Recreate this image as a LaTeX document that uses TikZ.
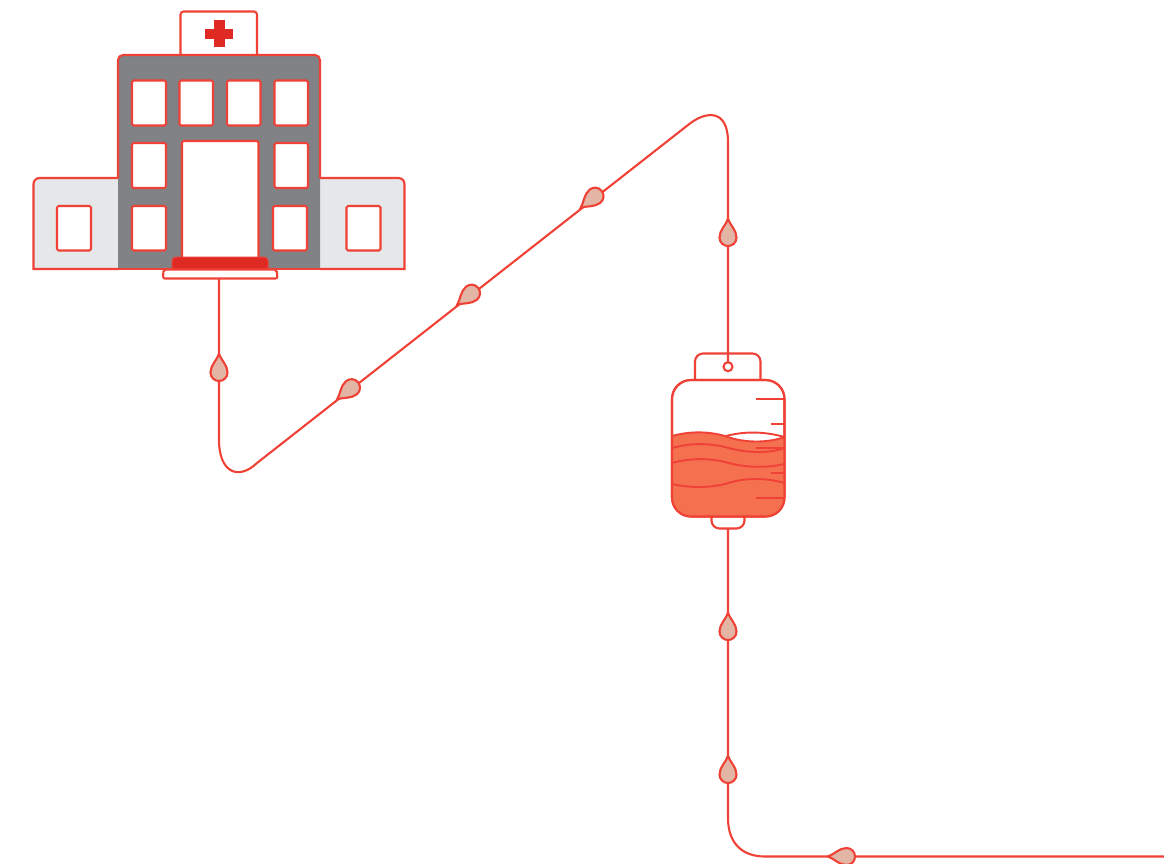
\documentclass[tikz,border=0pt]{standalone}

\definecolor{linered}{HTML}{EF4136}
\definecolor{crossred}{HTML}{DE2A22}
\definecolor{wallgray}{HTML}{808285}
\definecolor{winggray}{HTML}{E6E7E8}
\definecolor{dropfill}{HTML}{E3B5A4}
\definecolor{liquidred}{HTML}{F4704F}

\tikzset{
    redline/.style={draw=linered, line width=2.1pt},
    window/.style={redline, fill=white, rounded corners=1.5pt},
    tick/.style={draw=linered, line width=1.9pt},
    wave/.style={draw=linered, line width=1.9pt},
    drop/.pic={
        \draw[redline, fill=dropfill] (0,-14) .. controls (2,-8) and (8.5,-3) .. (8.5,4.5)
            .. controls (8.5,9.5) and (4.5,13) .. (0,13)
            .. controls (-4.5,13) and (-8.5,9.5) .. (-8.5,4.5)
            .. controls (-8.5,-3) and (-2,-8) .. (0,-14) -- cycle;
    }
}

\begin{document}
\begin{tikzpicture}[x=1pt, y=-1pt]
    \useasboundingbox (0,0) rectangle (1164,863);

    % Wings
    \draw[redline, fill=winggray] (118,269) -- (33.5,269) [rounded corners=6pt] -- (33.5,178) [sharp corners] -- (118,178);
    \draw[redline, fill=winggray] (320,269) -- (404.5,269) [rounded corners=6pt] -- (404.5,178) [sharp corners] -- (320,178);
    \draw[window] (57,206) rectangle (91,250.5);
    \draw[window] (346.5,206) rectangle (380.5,250.5);

    % Sign with cross
    \draw[redline, fill=white, rounded corners=3pt] (180.5,58) -- (180.5,11.5) -- (257,11.5) -- (257,58);
    \draw[draw=crossred, fill=crossred, line width=0.5pt] (214,20.5) -- (224,20.5) -- (224,29) -- (232.5,29) -- (232.5,38)
        -- (224,38) -- (224,46.5) -- (214,46.5) -- (214,38) -- (205.5,38) -- (205.5,29) -- (214,29) -- cycle;

    % Main building
    \fill[wallgray] (118,269) [rounded corners=5pt] -- (118,55) -- (320,55) [sharp corners] -- (320,269) -- cycle;
    \draw[redline] (118,178) [rounded corners=5pt] -- (118,55) -- (320,55) [sharp corners] -- (320,178);
    \draw[redline] (33.5,269) -- (404.5,269);

    % Windows
    \draw[window] (132,80.5) rectangle (166,125.5);
    \draw[window] (179.5,80.5) rectangle (213,125.5);
    \draw[window] (227,80.5) rectangle (260.5,125.5);
    \draw[window] (274.5,80.5) rectangle (308,125.5);
    \draw[window] (132,143) rectangle (166,188);
    \draw[window] (274.5,143) rectangle (308,188);
    \draw[window] (132,206) rectangle (166,250.5);
    \draw[window] (273,206) rectangle (307,250.5);

    % Door and steps
    \draw[window] (182,141) rectangle (258.5,262);
    \draw[draw=linered, fill=crossred, line width=1pt] (172,269) [rounded corners=4pt] -- (172,257) -- (268,257) [sharp corners] -- (268,269) -- cycle;
    \draw[redline, fill=white, rounded corners=2pt] (163,278.5) -- (163.5,269.5) -- (276.5,269.5) -- (277.5,278.5) -- cycle;

    % Bag
    \draw[redline, fill=white, rounded corners=8pt] (695,382) -- (695,353.5) -- (760.5,353.5) -- (760.5,382);
    \draw[redline, fill=white, rounded corners=8pt] (711.5,510) -- (711.5,528.5) -- (744.5,528.5) -- (744.5,510);
    \draw[redline, fill=white, rounded corners=19pt] (672,380) rectangle (784.5,516.5);
    \begin{scope}
        \clip[rounded corners=19pt] (672,380) rectangle (784.5,516.5);
        \fill[liquidred] (672,436) .. controls (690,431) and (710,431) .. (728,437)
            .. controls (745,443) and (768,443) .. (784.5,437) -- (784.5,520) -- (672,520) -- cycle;
        \draw[wave] (672,436) .. controls (690,431) and (710,431) .. (728,437)
            .. controls (745,443) and (768,443) .. (784.5,437);
        \draw[wave] (726,436) .. controls (745,431) and (765,431.5) .. (784.5,437);
        \draw[wave] (672,448) .. controls (690,443) and (708,443) .. (725,447)
            .. controls (745,453) and (768,454) .. (784.5,448);
        \draw[wave] (672,463) .. controls (690,458) and (708,458) .. (725,462)
            .. controls (745,468) and (768,468) .. (784.5,464);
        \draw[wave] (672,484) .. controls (690,488) and (708,488) .. (725,484)
            .. controls (745,477) and (768,478) .. (784.5,483);
    \end{scope}
    \draw[redline, rounded corners=19pt] (672,380) rectangle (784.5,516.5);
    \draw[tick] (756,399) -- (784.5,399);
    \draw[tick] (770.5,423.7) -- (784.5,423.7);
    \draw[tick] (756,448.3) -- (784.5,448.3);
    \draw[tick] (770.5,473) -- (784.5,473);
    \draw[tick] (756,497.7) -- (784.5,497.7);
    \draw[redline, fill=white] (728,366.7) circle (4.5);

    % Tube
    \coordinate (H) at (219,279);
    \coordinate (R) at (728,362.2);
    \coordinate (S) at (728,529);
    \coordinate (E) at (1164,856.5);
    \draw[redline] (H) -- (219,440) .. controls (219,472) and (238,481) .. (257,463)
        -- (688,125) .. controls (705,111) and (728,108) .. (728,142) -- (R);
    \draw[redline] (S) -- (728,818) .. controls (728,843) and (742,856.5) .. (765,856.5) -- (E);

    % Drops
    \pic at (219,368) {drop};
    \pic[rotate=129] at (348,390.5) {drop};
    \pic[rotate=129] at (468,296) {drop};
    \pic[rotate=129] at (591.5,199) {drop};
    \pic at (728,233) {drop};
    \pic at (728,627) {drop};
    \pic at (728,770) {drop};
    \pic[rotate=90] at (842,856.5) {drop};
\end{tikzpicture}
\end{document}
